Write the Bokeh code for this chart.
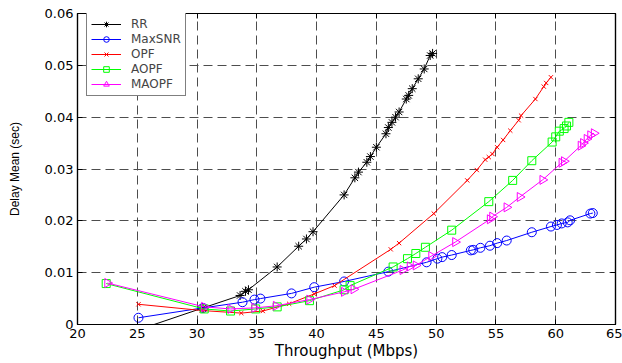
import numpy as np
from bokeh.plotting import figure
from bokeh.models import LinearAxis, FixedTicker, Legend, LegendItem
from bokeh.embed import file_html
from bokeh.resources import INLINE

# ---- data ----
xticks = [20, 25, 30, 35, 40, 45, 50, 55, 60, 65]
yticks = [0, 0.01, 0.02, 0.03, 0.04, 0.05, 0.06]
ytick_labels = ["0", "0.01", "0.02", "0.03", "0.04", "0.05", "0.06"]

rr_x = [25.0, 30.5, 33.6, 34.05, 34.3, 36.7, 38.5, 39.15, 39.7, 42.3, 43.2, 43.5, 44.2, 44.5,
        45.0, 45.8, 46.0, 46.3, 46.6, 46.9, 47.5, 47.7, 48.0, 48.5, 49.0, 49.5, 49.7]
rr_y = [-0.0011, 0.0032, 0.0056, 0.0064, 0.0067, 0.0111, 0.0151, 0.0165, 0.0179, 0.0250, 0.0283,
        0.0294, 0.0313, 0.0324, 0.0342, 0.0368, 0.0380, 0.0390, 0.0400, 0.0410, 0.0435, 0.0442,
        0.0455, 0.0474, 0.0493, 0.0519, 0.0523]

maxsnr_x = [25.1, 30.5, 33.8, 34.8, 35.3, 37.9, 39.8, 42.3, 46.0, 49.2, 50.1, 50.5, 51.3, 52.9,
            53.1, 53.7, 54.5, 55.1, 55.9, 58.0, 59.6, 60.1, 60.5, 61.0, 61.2, 62.9, 63.1]
maxsnr_y = [0.0013, 0.0032, 0.0043, 0.0048, 0.0050, 0.0060, 0.0072, 0.0083, 0.0102, 0.0120,
            0.0127, 0.0130, 0.0134, 0.0143, 0.0144, 0.0148, 0.0152, 0.0157, 0.0162, 0.0178,
            0.0189, 0.0192, 0.0195, 0.0197, 0.0201, 0.0214, 0.0215]

opf_x = [25.1, 30.4, 33.7, 35.5, 37.7, 39.8, 41.5, 46.2, 46.9, 49.8, 52.6, 53.4, 54.1, 54.4,
         54.7, 55.1, 55.6, 56.2, 56.9, 57.1, 58.3, 59.0, 59.2, 59.6]
opf_y = [0.0039, 0.0027, 0.0022, 0.0026, 0.0040, 0.0059, 0.0075, 0.0145, 0.0157, 0.0214, 0.0278,
         0.0298, 0.0318, 0.0323, 0.0329, 0.0342, 0.0356, 0.0374, 0.0394, 0.0403, 0.0435, 0.0459,
         0.0466, 0.0477]

aopf_x = [22.4, 30.6, 32.8, 34.9, 36.7, 39.4, 42.3, 42.8, 46.4, 47.6, 48.3, 49.1, 51.3, 54.4,
          56.4, 58.0, 59.7, 60.0, 60.3, 60.7, 60.9, 61.1]
aopf_y = [0.0079, 0.0030, 0.0026, 0.0030, 0.0034, 0.0046, 0.0067, 0.0075, 0.0111, 0.0127,
          0.0137, 0.0149, 0.0182, 0.0237, 0.0278, 0.0316, 0.0352, 0.0362, 0.0373, 0.0378,
          0.0383, 0.0390]

maopf_x = [22.5, 30.6, 32.8, 34.8, 36.6, 39.4, 42.3, 43.1, 47.2, 47.8, 48.3, 49.6, 51.6, 54.5,
           54.7, 55.9, 57.0, 58.9, 60.5, 60.7, 62.1, 62.3, 62.6, 62.9, 63.2]
maopf_y = [0.0080, 0.0034, 0.0030, 0.0032, 0.0036, 0.0048, 0.0063, 0.0068, 0.0105, 0.0112,
           0.0114, 0.0132, 0.0159, 0.0203, 0.0208, 0.0226, 0.0246, 0.0279, 0.0312, 0.0315,
           0.0345, 0.0350, 0.0358, 0.0365, 0.0369]

FONT = "DejaVu Sans"

p = figure(width=622, height=363, x_range=(20, 65), y_range=(0, 0.06),
           output_backend="svg", toolbar_location=None,
           min_border_left=77, min_border_right=7, min_border_top=13, min_border_bottom=39,
           background_fill_color="white", border_fill_color="white")
p.outline_line_color = "black"
p.outline_line_width = 1.2

# axes
p.xaxis.ticker = FixedTicker(ticks=xticks)
p.yaxis.ticker = FixedTicker(ticks=yticks)
p.yaxis.major_label_overrides = dict(zip(yticks, ytick_labels))
for ax in (p.xaxis[0], p.yaxis[0]):
    ax.axis_line_color = "black"
    ax.axis_line_width = 1.2
    ax.major_tick_in = 5
    ax.major_tick_out = 0
    ax.minor_tick_in = 0
    ax.minor_tick_out = 0
    ax.major_tick_line_color = "black"
    ax.major_label_text_font = FONT
    ax.major_label_text_font_size = "13px"
    ax.major_label_text_color = "black"
    ax.major_label_standoff = 4
    ax.axis_label_text_font_style = "normal"
    ax.axis_label_text_color = "black"

p.xaxis.axis_label = "Throughput (Mbps)"
p.xaxis.axis_label_text_font = FONT
p.xaxis.axis_label_text_font_size = "15px"
p.xaxis.axis_label_standoff = 1
p.yaxis.axis_label = "Delay Mean (sec)"
p.yaxis.axis_label_text_font = "Liberation Sans"
p.yaxis.axis_label_text_font_size = "12px"
p.yaxis.axis_label_standoff = 20

# box axes (top/right) with inward ticks, empty labels
top = LinearAxis(ticker=FixedTicker(ticks=xticks), major_tick_in=5, major_tick_out=0,
                 minor_tick_in=0, minor_tick_out=0, major_label_text_font_size="1px",
                 major_label_overrides={t: "" for t in xticks},
                 major_label_standoff=0, axis_line_color="black", axis_line_width=1.2)
right = LinearAxis(ticker=FixedTicker(ticks=yticks), major_tick_in=5, major_tick_out=0,
                   minor_tick_in=0, minor_tick_out=0, major_label_text_font_size="1px",
                   major_label_overrides={t: "" for t in yticks},
                   major_label_standoff=0, axis_line_color="black", axis_line_width=1.2)
p.add_layout(top, "above")
p.add_layout(right, "right")

# grid
p.xgrid[0].ticker = FixedTicker(ticks=xticks)
p.ygrid[0].ticker = FixedTicker(ticks=yticks)
for g in (p.xgrid[0], p.ygrid[0]):
    g.grid_line_color = "#4d4d4d"
    g.grid_line_dash = "9 5"
    g.grid_line_width = 1

series = [
    ("RR", rr_x, rr_y, "black", "asterisk", 9, 0),
    ("MaxSNR", maxsnr_x, maxsnr_y, "#0000ff", "circle", 9, 0),
    ("OPF", opf_x, opf_y, "#ff0000", "x", 6, 0),
    ("AOPF", aopf_x, aopf_y, "#00ff00", "square", 8, 0),
    ("MAOPF", maopf_x, maopf_y, "#ff00ff", "triangle", 9, -np.pi / 2),
]

items = []
for name, xs, ys, col, mk, sz, ang in series:
    l = p.line(xs, ys, line_color=col, line_width=1)
    s = p.scatter(xs, ys, marker=mk, size=sz, angle=ang, line_color=col,
                  fill_color=None, line_width=1)
    items.append(LegendItem(label=name, renderers=[l, s]))

legend = Legend(items=items, location=(9, 228),
                label_text_font=FONT, label_text_font_size="12px",
                label_height=14, glyph_height=14, glyph_width=30, spacing=1,
                padding=4, label_standoff=10, margin=0,
                border_line_color="black", border_line_width=1,
                background_fill_color="white", background_fill_alpha=1)
p.add_layout(legend)

open("out.html", "w").write(file_html(p, INLINE))
